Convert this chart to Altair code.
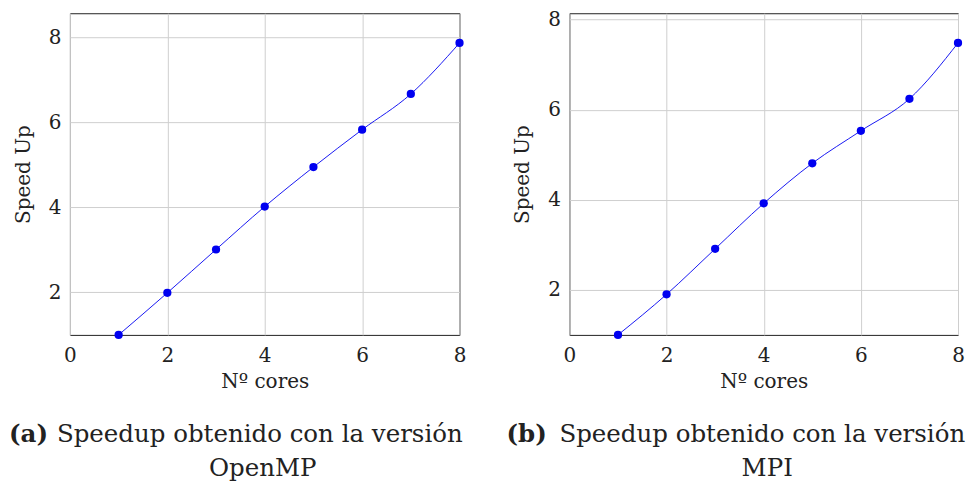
import altair as alt
import pandas as pd

cores = [1, 2, 3, 4, 5, 6, 7, 8]
speedup_openmp = [1.0, 1.99, 3.01, 4.02, 4.95, 5.83, 6.67, 7.87]
speedup_mpi = [1.0, 1.90, 2.91, 3.92, 4.81, 5.53, 6.24, 7.48]

x_ticks = [0, 2, 4, 6, 8]
y_ticks = [2, 4, 6, 8]
x_title = "Nº cores"
y_title = "Speed Up"

labels = ["(a)", "(b)"]
caption_line1 = ["Speedup obtenido con la versión", "Speedup obtenido con la versión"]
caption_line2 = ["OpenMP", "MPI"]
y_domains = [[1, 8.57], [1, 8.14]]

FONT = "DejaVu Serif"
BLUE = "#0000f0"
H = 322


def panel(values, i, w, lab_x, txt_x, l2_x):
    df = pd.DataFrame({"cores": cores, "speedup": values})
    x = alt.X(
        "cores:Q",
        scale=alt.Scale(domain=[0, 8], nice=False, zero=False),
        axis=alt.Axis(values=x_ticks, title=x_title, format="d", labelFlush=False),
    )
    y = alt.Y(
        "speedup:Q",
        scale=alt.Scale(domain=y_domains[i], nice=False, zero=False),
        axis=alt.Axis(values=y_ticks, title=y_title, format="d", labelFlush=False),
    )
    base = alt.Chart(df).encode(x=x, y=y)
    line = base.mark_line(color=BLUE, strokeWidth=0.9, interpolate="monotone")
    pts = base.mark_circle(color=BLUE, opacity=1, size=68)

    cap = alt.Chart(alt.Data(values=[{}]))
    lab = cap.mark_text(
        font=FONT, fontSize=24.5, fontWeight="bold", align="left", baseline="middle", color="#222"
    ).encode(x=alt.value(lab_x), y=alt.value(422), text=alt.value(labels[i]))
    t1 = cap.mark_text(
        font=FONT, fontSize=24.5, align="left", baseline="middle", color="#222"
    ).encode(x=alt.value(txt_x), y=alt.value(422), text=alt.value(caption_line1[i]))
    t2 = cap.mark_text(
        font=FONT, fontSize=24.5, align="center", baseline="middle", color="#222"
    ).encode(x=alt.value(l2_x), y=alt.value(456), text=alt.value(caption_line2[i]))

    return alt.layer(line, pts, lab, t1, t2).properties(width=w, height=H)


left = panel(speedup_openmp, 0, 390, -61, -13, 193)
right = panel(speedup_mpi, 1, 389, -63, -10, 198)

chart = (
    alt.hconcat(left, right, spacing=110, bounds="flush")
    .properties(padding={"left": 0, "top": 0, "right": 0, "bottom": 0})
    .configure_view(stroke="#222", strokeWidth=1)
    .configure_axis(
        labelFont=FONT,
        titleFont=FONT,
        labelFontSize=20,
        titleFontSize=20,
        labelColor="#222",
        titleColor="#222",
        titleFontWeight="normal",
        domain=False,
        ticks=False,
        grid=True,
        gridColor="#cfcfcf",
        gridWidth=1,
    )
    .configure_axisX(labelPadding=11, titlePadding=6)
    .configure_axisY(labelPadding=9, titlePadding=15)
)

chart.save("out.html", embed_options={"renderer": "svg", "actions": False})
